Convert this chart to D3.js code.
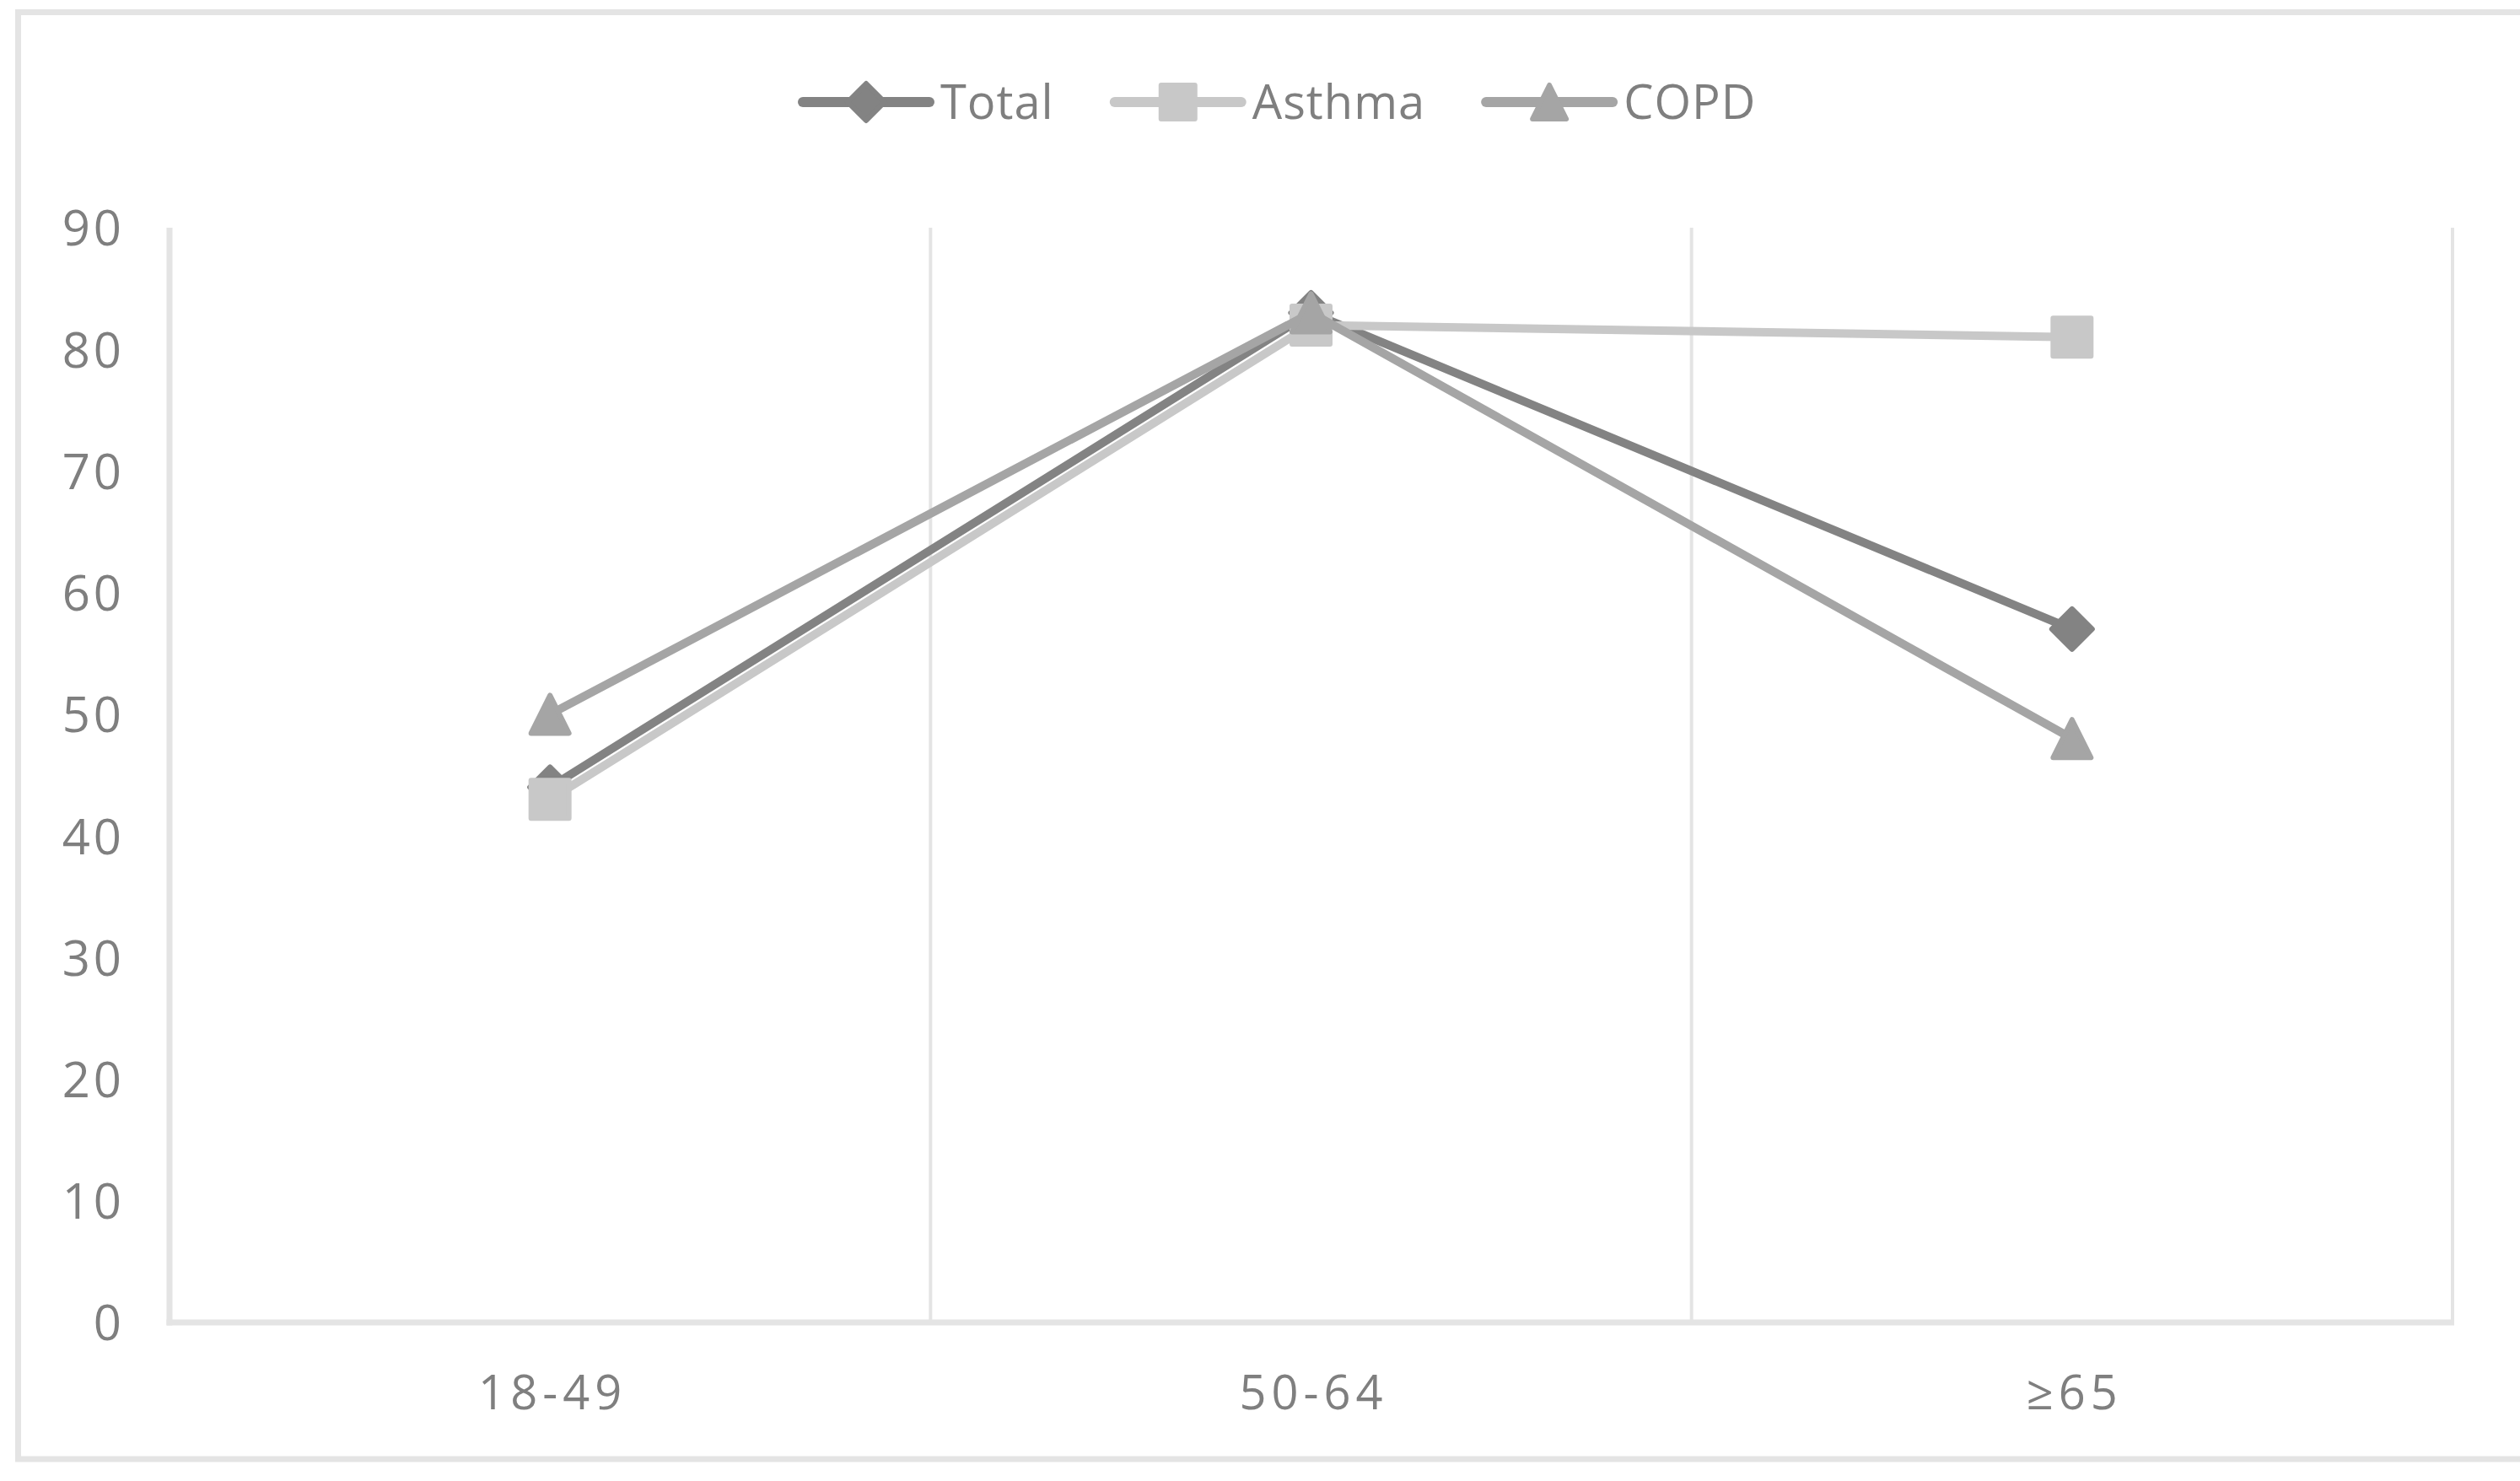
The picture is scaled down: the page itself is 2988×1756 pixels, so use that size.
<!DOCTYPE html>
<html>
<head>
<meta charset="utf-8">
<script src="https://cdn.jsdelivr.net/npm/d3@7"></script>
<style>
  html, body { margin: 0; padding: 0; background: #fff; }
  svg { display: block; }
  text { font-family: "Open Sans", "Noto Sans", sans-serif; fill: #7f7f7f; }
</style>
</head>
<body>
<svg id="chart" width="2988" height="1756"></svg>
<script>
// ---- data ----
const categories = ["18-49", "50-64", "\u226565"];
const seriesNames = ["Total", "Asthma", "COPD"];
const totalValues = [44, 83, 57];
const asthmaValues = [43, 82, 81];
const copdValues = [50, 83, 48];
const yTicks = [0, 10, 20, 30, 40, 50, 60, 70, 80, 90];

const seriesColors = ["#838383", "#c8c8c8", "#a5a5a5"];
const seriesSymbols = [d3.symbolDiamond, d3.symbolSquare, d3.symbolTriangle];
const series = [
  { name: seriesNames[0], values: totalValues, color: seriesColors[0], symbol: "diamond" },
  { name: seriesNames[1], values: asthmaValues, color: seriesColors[1], symbol: "square" },
  { name: seriesNames[2], values: copdValues, color: seriesColors[2], symbol: "triangle" }
];

// ---- layout ----
const W = 2988, H = 1756;
const plot = { left: 201, right: 2908, top: 270, bottom: 1568 };
const gridColor = "#e4e4e4";

const svg = d3.select("#chart");

// outer border (top, left, bottom; right is clipped in the original)
svg.append("rect").attr("x", 21.5).attr("y", 14.5).attr("width", 3100).attr("height", 1715.5)
  .attr("fill", "none").attr("stroke", gridColor).attr("stroke-width", 7);

const x = d3.scaleBand().domain(categories).range([plot.left, plot.right]).paddingInner(0).paddingOuter(0);
const y = d3.scaleLinear().domain([0, 90]).range([plot.bottom, plot.top]);

// vertical gridlines at band boundaries
const boundaries = categories.map(c => x(c) + x.bandwidth()).slice(0);
svg.append("g").selectAll("line").data(boundaries).join("line")
  .attr("x1", d => d).attr("x2", d => d)
  .attr("y1", plot.top).attr("y2", plot.bottom)
  .attr("stroke", gridColor).attr("stroke-width", 4);

// axis lines
svg.append("line").attr("x1", plot.left).attr("x2", plot.left)
  .attr("y1", plot.top).attr("y2", plot.bottom + 3.5)
  .attr("stroke", gridColor).attr("stroke-width", 7);
svg.append("line").attr("x1", plot.left - 3.5).attr("x2", plot.right + 2)
  .attr("y1", plot.bottom).attr("y2", plot.bottom)
  .attr("stroke", gridColor).attr("stroke-width", 7);

// y axis labels
const yAxis = d3.axisLeft(y).tickValues(yTicks).tickSize(0).tickPadding(0);
const yg = svg.append("g").attr("transform", `translate(${148},0)`).call(yAxis);
yg.select(".domain").remove();
yg.selectAll("text")
  .attr("font-size", 58).attr("letter-spacing", 4)
  .attr("font-family", "'Open Sans', sans-serif").attr("fill", "#7f7f7f")
  .attr("dy", "0.36em").attr("x", 0);

// x axis labels
const xAxis = d3.axisBottom(x).tickSize(0).tickPadding(0);
const xg = svg.append("g").attr("transform", `translate(3,${1651})`).call(xAxis);
xg.select(".domain").remove();
xg.selectAll("text")
  .attr("font-size", 56).attr("letter-spacing", 6)
  .attr("font-family", "'Open Sans', sans-serif").attr("fill", "#7f7f7f")
  .attr("dy", "0.36em").attr("y", 0);

// markers
function markerPath(sel, type, size) {
  const h = size / 2;
  if (type === "square") {
    sel.attr("d", `M${-h},${-h}H${h}V${h}H${-h}Z`);
  } else if (type === "diamond") {
    sel.attr("d", `M0,${-h}L${h},0L0,${h}L${-h},0Z`);
  } else {
    sel.attr("d", `M0,${-h}L${h},${h}L${-h},${h}Z`);
  }
}

const line = d3.line().x((d, i) => x(categories[i]) + x.bandwidth() / 2).y(d => y(d));

series.forEach(s => {
  const g = svg.append("g");
  g.append("path").datum(s.values).attr("d", line)
    .attr("fill", "none").attr("stroke", s.color).attr("stroke-width", 10)
    .attr("stroke-linejoin", "round").attr("stroke-linecap", "round");
  g.selectAll("path.m").data(s.values).join("path").attr("class", "m")
    .call(markerPath, s.symbol, s.symbol === "diamond" ? 48 : 45)
    .attr("transform", (d, i) => `translate(${x(categories[i]) + x.bandwidth() / 2},${y(d)})`)
    .attr("fill", s.color).attr("stroke", s.color).attr("stroke-width", 6)
    .attr("stroke-linejoin", "round");
});

// legend
const legendY = 121;
const lineLen = 150, textGap = 13, itemGap = 72;
const legend = svg.append("g");
const items = legend.selectAll("g").data(series).join("g");
items.append("line").attr("x1", 0).attr("x2", lineLen).attr("y1", 0).attr("y2", 0)
  .attr("stroke", d => d.color).attr("stroke-width", 12).attr("stroke-linecap", "round");
items.append("path").each(function(d) { markerPath(d3.select(this), d.symbol, d.symbol === "diamond" ? 44 : 40); })
  .attr("transform", `translate(${lineLen / 2},0)`)
  .attr("fill", d => d.color).attr("stroke", d => d.color).attr("stroke-width", 6).attr("stroke-linejoin", "round");
items.append("text").attr("x", lineLen + textGap).attr("y", 0).attr("dy", "0.36em")
  .attr("font-size", 56).attr("letter-spacing", 1).text(d => d.name);
let widths = [];
items.each(function() { widths.push(this.getBBox().width); });
const totalW = d3.sum(widths) + itemGap * (widths.length - 1);
let cx = 952;
items.attr("transform", (d, i) => {
  const t = `translate(${cx},${legendY})`;
  cx += widths[i] + itemGap;
  return t;
});
</script>
</body>
</html>
